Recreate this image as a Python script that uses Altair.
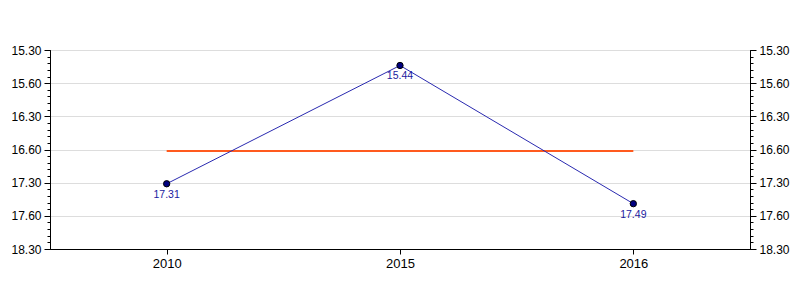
import altair as alt
import numpy as np
import pandas as pd

# Data (times written as minutes.seconds)
years = ["2010", "2015", "2016"]
times = [17.31, 15.44, 17.49]

# Axis ticks (decimal minutes) and their labels as shown
tick_values = [15.5, 16.0, 16.5, 17.0, 17.5, 18.0, 18.5]
tick_labels = ["15.30", "15.60", "16.30", "16.60", "17.30", "17.60", "18.30"]

df = pd.DataFrame({"year": years, "t": times})

minor_values = [round(v, 2) for v in np.arange(15.5, 18.5001, 0.1)]

label_expr = "[" + ",".join(f"'{s}'" for s in tick_labels) + "][indexof([" + ",".join(str(v) for v in tick_values) + "], datum.value)]"

FONT = "Liberation Sans"
yscale = alt.Scale(domain=[15.5, 18.5], reverse=True, nice=False, zero=False)

x_enc = alt.X(
    "year:O",
    scale=alt.Scale(type="point", padding=0.5),
    axis=alt.Axis(title=None, labelAngle=0, tickSize=5, labelFontSize=13, labelFont=FONT,
                  labelColor="black", domainColor="black", tickColor="black", labelPadding=3),
)

def major_axis(orient, grid):
    return alt.Axis(orient=orient, title=None, values=tick_values, labelExpr=label_expr,
                    grid=grid, gridColor="#dddddd", tickSize=6, labelFontSize=12, labelFont=FONT,
                    labelColor="black", domainColor="black", tickColor="black", labelPadding=3)

def minor_axis(orient):
    return alt.Axis(orient=orient, title=None, values=minor_values, labels=False, grid=False,
                    tickSize=3, domain=False, tickColor="black")

base = alt.Chart(df).transform_calculate(
    dec="floor(datum.t) + (datum.t - floor(datum.t)) * 100 / 60"
)

mean_line = base.transform_joinaggregate(m="mean(dec)").mark_line(
    color="#ff5a1e", strokeWidth=2
).encode(x=x_enc, y=alt.Y("m:Q", scale=yscale, axis=major_axis("right", False)))

line = base.mark_line(color="#2a2ab0", strokeWidth=1).encode(
    x=x_enc, y=alt.Y("dec:Q", scale=yscale, axis=major_axis("left", True))
)

points = base.mark_point(filled=True, fill="#000080", stroke="black", strokeWidth=1, size=40, opacity=1).encode(
    x=x_enc, y=alt.Y("dec:Q", scale=yscale, axis=minor_axis("left"))
)

labels = base.mark_text(dy=11, color="#1a1aa0", fontSize=10.5, font=FONT).encode(
    x=x_enc, y=alt.Y("dec:Q", scale=yscale, axis=minor_axis("right")),
    text=alt.Text("t:Q", format=".2f"),
)

chart = alt.layer(mean_line, line, points, labels).resolve_scale(y="shared").resolve_axis(y="independent").properties(
    width=700, height=199,
    autosize=alt.AutoSizeParams(type="none"),
    padding={"left": 50, "top": 50, "right": 50, "bottom": 51},
    background="white",
).configure_view(stroke="black", strokeWidth=1)

chart.save("out.html", embed_options={"renderer": "svg", "actions": False})
